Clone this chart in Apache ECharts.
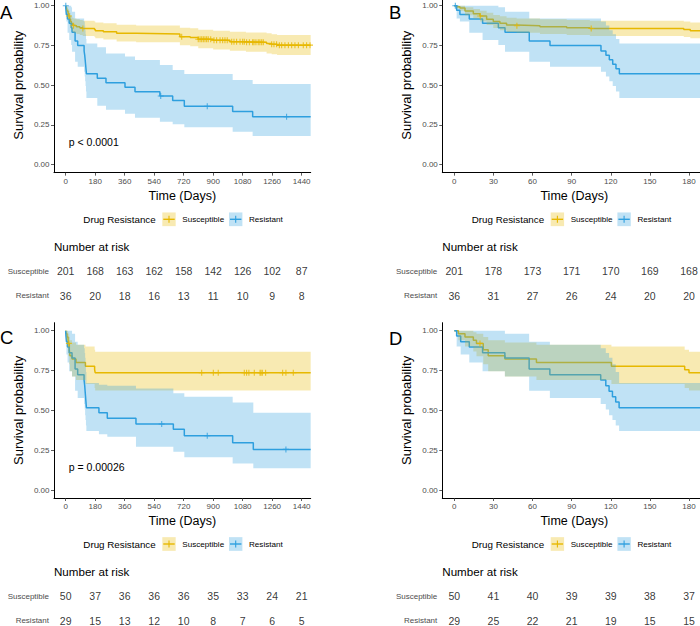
<!DOCTYPE html>
<html><head><meta charset="utf-8">
<script src="https://cdn.jsdelivr.net/npm/echarts@6/dist/echarts.min.js"></script>
<style>html,body{margin:0;padding:0;background:#fff}#c{width:700px;height:626px}</style>
</head><body><div id="c"></div>
<script>
// ---------------- DATA ----------------
// Cohort 1 (panels A and B), Susceptible
const s1Time  = [0, 1.8, 4.3, 8.2, 14.6, 19.7, 24.8, 29.9, 35, 40.1, 47.8, 65.7, 86.2, 104, 176, 181, 230, 311, 430, 697, 760, 809, 900, 1002, 1100, 1226, 1257, 1290, 1495];
const s1Surv  = [1, 0.994, 0.985, 0.966, 0.95, 0.935, 0.915, 0.90, 0.889, 0.878, 0.874, 0.868, 0.862, 0.857, 0.851, 0.843, 0.836, 0.826, 0.822, 0.805, 0.80, 0.789, 0.782, 0.774, 0.77, 0.763, 0.757, 0.752, 0.752];
const s1Upper = [1, 1, 1, 0.99, 0.98, 0.968, 0.955, 0.942, 0.933, 0.925, 0.92, 0.915, 0.91, 0.906, 0.90, 0.895, 0.89, 0.88, 0.876, 0.862, 0.858, 0.849, 0.843, 0.836, 0.832, 0.826, 0.821, 0.816, 0.816];
const s1Lower = [1, 0.983, 0.968, 0.94, 0.92, 0.90, 0.878, 0.86, 0.845, 0.835, 0.83, 0.822, 0.815, 0.81, 0.803, 0.795, 0.788, 0.775, 0.77, 0.752, 0.745, 0.733, 0.725, 0.716, 0.71, 0.70, 0.695, 0.69, 0.69];
const s1Censor = [19.9, 48, 105, 708, 809, 820, 830, 840, 850, 860, 870, 885, 905, 921, 942, 958, 972, 986, 1013, 1027, 1043, 1064, 1080, 1090, 1104, 1121, 1141, 1149, 1161, 1175, 1185, 1196, 1206, 1257, 1271, 1287, 1304, 1318, 1338, 1359, 1379, 1399, 1420, 1450, 1470, 1491];
// Cohort 1, Resistant
const r1Time  = [0, 1.8, 4.3, 11.5, 21.7, 33.8, 38.9, 57.5, 73.4, 112.5, 116.3, 118.9, 121.5, 124, 126.6, 193, 246, 362, 423, 575, 653, 724, 1019, 1141, 1495];
const r1Surv  = [1, 0.972, 0.944, 0.917, 0.889, 0.861, 0.833, 0.778, 0.75, 0.715, 0.688, 0.66, 0.632, 0.603, 0.572, 0.543, 0.516, 0.487, 0.459, 0.432, 0.403, 0.367, 0.334, 0.302, 0.302];
const r1Upper = [1, 1, 1, 1, 1, 0.99, 0.962, 0.92, 0.92, 0.90, 0.875, 0.845, 0.82, 0.79, 0.763, 0.738, 0.70, 0.68, 0.658, 0.627, 0.596, 0.57, 0.533, 0.508, 0.508];
const r1Lower = [1, 0.92, 0.90, 0.83, 0.784, 0.753, 0.711, 0.648, 0.616, 0.585, 0.555, 0.525, 0.495, 0.46, 0.42, 0.37, 0.345, 0.32, 0.295, 0.27, 0.255, 0.235, 0.208, 0.18, 0.18];
const r1Censor = [0.8, 580, 864, 1348];
// Cohort 2 (panels C and D), Susceptible
const s2Time  = [0, 3.1, 8.2, 14.6, 17, 22.2, 26, 38.8, 63, 120.5, 176.7, 180, 1495];
const s2Surv  = [1, 0.98, 0.96, 0.94, 0.92, 0.88, 0.843, 0.822, 0.80, 0.776, 0.755, 0.736, 0.736];
const s2Upper = [1, 1, 1, 0.99, 0.98, 0.96, 0.94, 0.925, 0.912, 0.90, 0.88, 0.868, 0.868];
const s2Lower = [1, 0.94, 0.90, 0.87, 0.84, 0.79, 0.745, 0.713, 0.69, 0.665, 0.64, 0.625, 0.625];
const s2Censor = [19.7, 830, 901, 931, 1090, 1104, 1118, 1151, 1186, 1192, 1200, 1220, 1324, 1344, 1389];
// Cohort 2, Resistant
const r2Time  = [0, 1.8, 4.9, 11.5, 21.7, 38.8, 57.4, 73.3, 112.3, 116.2, 118.7, 121.3, 123.8, 126.4, 203, 254, 429, 657, 724, 1019, 1145, 1495];
const r2Surv  = [1, 0.966, 0.931, 0.897, 0.862, 0.828, 0.759, 0.724, 0.69, 0.655, 0.62, 0.586, 0.552, 0.517, 0.485, 0.45, 0.414, 0.381, 0.341, 0.297, 0.255, 0.255];
const r2Upper = [1, 1, 1, 1, 1, 0.98, 0.93, 0.912, 0.89, 0.86, 0.83, 0.79, 0.74, 0.672, 0.66, 0.655, 0.637, 0.607, 0.585, 0.55, 0.485, 0.485];
const r2Lower = [1, 0.90, 0.85, 0.80, 0.745, 0.713, 0.623, 0.577, 0.54, 0.505, 0.47, 0.44, 0.405, 0.37, 0.35, 0.335, 0.272, 0.24, 0.205, 0.167, 0.136, 0.136];
const r2Censor = [586, 864, 1344];

// Tick labels / risk-table times
const xTicksLong  = [0, 180, 360, 540, 720, 900, 1080, 1260, 1440];
const xTicksShort = [0, 30, 60, 90, 120, 150, 180];
const yTicks      = [0, 0.25, 0.5, 0.75, 1];
const groups      = ['Susceptible', 'Resistant'];

// Numbers at risk
const riskA_S = [201, 168, 163, 162, 158, 142, 126, 102, 87];
const riskA_R = [36, 20, 18, 16, 13, 11, 10, 9, 8];
const riskB_S = [201, 178, 173, 171, 170, 169, 168];
const riskB_R = [36, 31, 27, 26, 24, 20, 20];
const riskC_S = [50, 37, 36, 36, 36, 35, 33, 24, 21];
const riskC_R = [29, 15, 13, 12, 10, 8, 7, 6, 5];
const riskD_S = [50, 41, 40, 39, 39, 38, 37];
const riskD_R = [29, 25, 22, 21, 19, 15, 15];

const pValues = ['p < 0.0001', null, 'p = 0.00026', null];

// ---------------- STYLE / LAYOUT ----------------
const FONT = 'Liberation Sans, Arial, Helvetica, sans-serif';
const COL_S = '#E7B800', COL_R = '#2E9FDF';
const FILL_S = 'rgba(231,184,0,0.3)', FILL_R = 'rgba(46,159,223,0.3)';

const cohorts = [
  {s:{t:s1Time, v:s1Surv, u:s1Upper, l:s1Lower, c:s1Censor}, r:{t:r1Time, v:r1Surv, u:r1Upper, l:r1Lower, c:r1Censor}},
  {s:{t:s2Time, v:s2Surv, u:s2Upper, l:s2Lower, c:s2Censor}, r:{t:r2Time, v:r2Surv, u:r2Upper, l:r2Lower, c:r2Censor}}
];

const LONG = {min:-71.2, max:1495.2, left:54, width:256.7, ticks:xTicksLong};
const SHORT = {min:-9.2, max:193.2, left:442.3, width:263.9, ticks:xTicksShort};
const panels = [
  {letter:'A', cohort:0, x:LONG,  top:-2.25, height:174.9, riskTop:259.2, risk:[riskA_S, riskA_R], lx:0,   ly:12.8, legY:219.3, legX:83.3,  narY:246.7, pY:142.3},
  {letter:'B', cohort:0, x:SHORT, top:-2.25, height:174.9, riskTop:259.2, risk:[riskB_S, riskB_R], lx:389, ly:12.8, legY:219.3, legX:471.7, narY:246.7},
  {letter:'C', cohort:1, x:LONG,  top:322.7, height:175.3, riskTop:584.2, risk:[riskC_S, riskC_R], lx:0,   ly:337.2, legY:544,  legX:83.3,  narY:571.7, pY:467.3},
  {letter:'D', cohort:1, x:SHORT, top:322.7, height:175.3, riskTop:584.2, risk:[riskD_S, riskD_R], lx:389, ly:338, legY:544,  legX:471.7, narY:571.7}
];

function stepAt(t, times, vals) {
  let v = vals[0];
  for (let i = 0; i < times.length; i++) { if (times[i] <= t) v = vals[i]; else break; }
  return v;
}
const crossPath = 'path://M5,0L5,10M0,5L10,5';

// confidence ribbon as one step polygon, positioned through the axes (api.coord)
function ribbonRenderer(d, fill) {
  return function (params, api) {
    if (params.dataIndex !== 0) return null;
    const n = d.t.length, top = [], bot = [];
    for (let i = 0; i < n; i++) {
      const t0 = d.t[i], t1 = i < n - 1 ? d.t[i + 1] : d.t[i];
      top.push(api.coord([t0, d.u[i]]), api.coord([t1, d.u[i]]));
      bot.push(api.coord([t0, d.l[i]]), api.coord([t1, d.l[i]]));
    }
    return {type:'polygon', shape:{points:top.concat(bot.reverse())}, style:{fill:fill, stroke:null}, silent:true};
  };
}

const grid = [], xAxis = [], yAxis = [], series = [], graphic = [];

panels.forEach((p, gi) => {
  const pi = grid.length;
  grid.push({left:p.x.left, width:p.x.width, top:p.top, height:p.height, outerBoundsMode:'none', containLabel:false});
  xAxis.push({
    gridIndex:pi, type:'value', min:p.x.min, max:p.x.max,
    axisLine:{show:true, onZero:false, lineStyle:{color:'#000', width:1}},
    axisTick:{show:true, customValues:p.x.ticks, length:3, lineStyle:{color:'#333', width:0.8}},
    axisLabel:{customValues:p.x.ticks, fontSize:8, color:'#4d4d4d', margin:4.5, fontFamily:FONT,
               formatter:v => String(v)},
    splitLine:{show:false},
    name:'Time (Days)', nameLocation:'middle', nameGap:16.5,
    nameTextStyle:{fontSize:12.5, color:'#000', fontFamily:FONT}
  });
  yAxis.push({
    gridIndex:pi, type:'value', min:-0.05, max:1.05,
    axisLine:{show:true, onZero:false, lineStyle:{color:'#000', width:1}},
    axisTick:{show:true, customValues:yTicks, length:3, lineStyle:{color:'#333', width:0.8}},
    axisLabel:{customValues:yTicks, fontSize:8, color:'#4d4d4d', margin:4.5, fontFamily:FONT,
               formatter:v => Number(v).toFixed(2)},
    splitLine:{show:false},
    name:'Survival probability', nameLocation:'middle', nameGap:29,
    nameTextStyle:{fontSize:13, color:'#000', fontFamily:FONT}
  });
  const co = cohorts[p.cohort];
  [['s', COL_S, FILL_S], ['r', COL_R, FILL_R]].forEach(([k, col, fill]) => {
    const d = co[k];
    // survival step line
    series.push({type:'line', xAxisIndex:pi, yAxisIndex:pi, step:'end', symbol:'none', z:2,
      data:d.t.map((x, i) => [x, d.v[i]]), lineStyle:{color:col, width:1.5}, itemStyle:{color:col}, silent:true});
    // confidence ribbon
    series.push({type:'custom', xAxisIndex:pi, yAxisIndex:pi, z:3, silent:true,
      data:d.t.map((x, i) => [x, d.l[i], d.u[i]]),
      encode:{x:0, y:[1, 2]},
      renderItem:ribbonRenderer(d, fill)});
    // censor marks
    series.push({type:'scatter', xAxisIndex:pi, yAxisIndex:pi, symbol:crossPath, symbolSize:6, z:4,
      data:d.c.map(t => [t, stepAt(t, d.t, d.v)]),
      itemStyle:{color:'rgba(0,0,0,0)', borderColor:col, borderWidth:1.1}, silent:true});
  });

  // risk table grid
  const ri = grid.length;
  grid.push({left:p.x.left, width:p.x.width, top:p.riskTop, height:49, outerBoundsMode:'none', containLabel:false});
  xAxis.push({gridIndex:ri, type:'value', min:p.x.min, max:p.x.max, show:false});
  yAxis.push({gridIndex:ri, type:'category', data:groups.slice().reverse(),
    axisLine:{show:false}, axisTick:{show:false}, splitLine:{show:false},
    axisLabel:{fontSize:8, color:'#4d4d4d', margin:5, fontFamily:FONT}});
  groups.forEach((g, j) => {
    series.push({type:'scatter', xAxisIndex:ri, yAxisIndex:ri, symbolSize:1, silent:true,
      itemStyle:{color:'rgba(0,0,0,0)'},
      data:p.x.ticks.map((t, i) => [t, g, p.risk[j][i]]),
      label:{show:true, position:'inside', formatter:q => String(q.value[2]),
             fontSize:10.5, color:'#000', fontFamily:FONT}});
  });

  // panel letter
  graphic.push({type:'text', x:p.lx, y:p.ly, style:{text:p.letter, fontSize:18.5, fontFamily:FONT, fill:'#000', align:'left', verticalAlign:'middle'}});
  // number at risk title
  graphic.push({type:'text', x:p.x.left, y:p.narY, style:{text:'Number at risk', fontSize:11.6, fontFamily:FONT, fill:'#000', align:'left', verticalAlign:'middle'}});
  // p value
  if (pValues[gi]) graphic.push({type:'text', x:p.x.left + 14.8, y:p.pY, style:{text:pValues[gi], fontSize:10.5, fontFamily:FONT, fill:'#000', align:'left', verticalAlign:'middle'}});
  // legend
  const lx = p.legX, ly = p.legY;
  graphic.push({type:'text', x:lx, y:ly, style:{text:'Drug Resistance', fontSize:9.8, fontFamily:FONT, fill:'#000', align:'left', verticalAlign:'middle'}});
  [[79, COL_S, FILL_S, groups[0], 99], [145.7, COL_R, FILL_R, groups[1], 165.7]].forEach(([dx, col, fill, label, tx]) => {
    const bx = lx + dx, by = ly - 6.85;
    graphic.push({type:'rect', shape:{x:bx, y:by, width:13.4, height:13.7}, style:{fill:fill}});
    graphic.push({type:'line', shape:{x1:bx + 1, y1:ly, x2:bx + 12.4, y2:ly}, style:{stroke:col, lineWidth:1.4}});
    graphic.push({type:'line', shape:{x1:bx + 6.7, y1:ly - 3.5, x2:bx + 6.7, y2:ly + 3.5}, style:{stroke:col, lineWidth:1.1}});
    graphic.push({type:'text', x:lx + tx, y:ly, style:{text:label, fontSize:8.1, fontFamily:FONT, fill:'#000', align:'left', verticalAlign:'middle'}});
  });
});

const chart = echarts.init(document.getElementById('c'), null, {renderer:'svg'});
chart.setOption({
  animation:false,
  backgroundColor:'#fff',
  textStyle:{fontFamily:FONT},
  grid, xAxis, yAxis, series, graphic
});
</script></body></html>
